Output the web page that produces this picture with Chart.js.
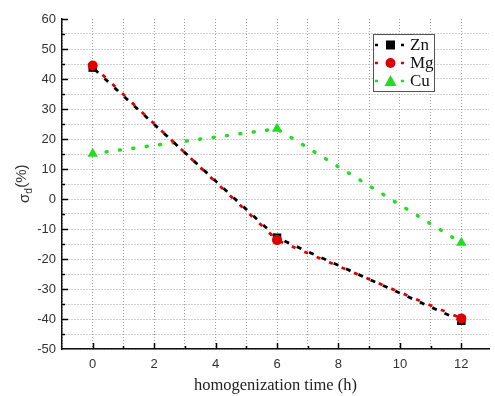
<!DOCTYPE html>
<html><head><meta charset="utf-8">
<script src="https://cdn.jsdelivr.net/npm/chart.js@4.4.1/dist/chart.umd.min.js"></script>
<style>html,body{margin:0;padding:0;background:#fff}#wrap{width:495px;height:396px;position:relative}</style>
</head><body><div id="wrap"><canvas id="c" width="495" height="396"></canvas></div>
<script>
const hours = [0, 6, 12];
const znValues = [43.8, -12.9, -40.6];
const mgValues = [44.5, -13.7, -39.8];
const cuValues = [15.1, 23.4, -14.6];
const seriesNames = ['Zn', 'Mg', 'Cu'];
const xTickLabels = [0, 2, 4, 6, 8, 10, 12];
const yTickLabels = [60, 50, 40, 30, 20, 10, 0, -10, -20, -30, -40, -50];

const GREEN = '#22dd22';
const pts = v => hours.map((h, i) => ({x: h, y: v[i]}));

const insideTicks = {
  id: 'insideTicks',
  afterDatasetsDraw(chart) {
    const {ctx, chartArea: a, scales: {x, y}} = chart;
    ctx.save();
    ctx.strokeStyle = '#000'; ctx.lineWidth = 1.5;
    for (let v = 0; v <= 12; v++) {
      const px = Math.round(x.getPixelForValue(v)) + 0.5;
      const len = xTickLabels.includes(v) ? 6 : 3;
      ctx.beginPath(); ctx.moveTo(px, a.bottom); ctx.lineTo(px, a.bottom - len); ctx.stroke();
    }
    for (let v = -45; v <= 60; v += 5) {
      const py = Math.round(y.getPixelForValue(v)) + 0.5;
      const len = yTickLabels.includes(v) ? 6 : 3;
      ctx.beginPath(); ctx.moveTo(a.left, py); ctx.lineTo(a.left + len, py); ctx.stroke();
    }
    // y title: sigma_d (%)
    ctx.fillStyle = '#333';
    ctx.translate(24, (a.top + a.bottom) / 2);
    ctx.rotate(-Math.PI / 2);
    ctx.textBaseline = 'alphabetic';
    const big = '15px "Liberation Sans"', small = '10px "Liberation Sans"';
    ctx.font = big; const w1 = ctx.measureText('σ').width;
    ctx.font = small; const w2 = ctx.measureText('d').width;
    ctx.font = big; const w3 = ctx.measureText('(%)').width;
    let sx = -(w1 + w2 + w3) / 2;
    ctx.fillText('σ', sx, 5); sx += w1;
    ctx.font = small; ctx.fillText('d', sx, 8); sx += w2 + 0.5;
    ctx.font = big; ctx.fillText('(%)', sx, 2);
    ctx.restore();

    // legend box
    ctx.save();
    const bx = 373.5, by = 34.5, bw = 61, bh = 57;
    ctx.fillStyle = '#fff'; ctx.fillRect(bx, by, bw, bh);
    ctx.strokeStyle = '#555'; ctx.lineWidth = 1; ctx.strokeRect(bx, by, bw, bh);
    chart.data.datasets.forEach((ds, i) => {
      const ry = 45 + i * 18;
      ctx.strokeStyle = ds.borderColor; ctx.lineWidth = 2.5; ctx.setLineDash([]);
      ctx.beginPath(); ctx.moveTo(375, ry); ctx.lineTo(378, ry); ctx.stroke();
      ctx.beginPath(); ctx.moveTo(401, ry); ctx.lineTo(404, ry); ctx.stroke();
      ctx.fillStyle = ds.pointBackgroundColor;
      if (ds.pointStyle === 'rect') ctx.fillRect(386, ry - 4.5, 9, 9);
      else if (ds.pointStyle === 'circle') { ctx.beginPath(); ctx.arc(390.5, ry, 5, 0, Math.PI * 2); ctx.fill(); }
      else { ctx.beginPath(); ctx.moveTo(390.5, ry - 6); ctx.lineTo(396.5, ry + 5); ctx.lineTo(384.5, ry + 5); ctx.closePath(); ctx.fill(); }
      ctx.fillStyle = '#111'; ctx.font = '17px "Liberation Serif"'; ctx.textBaseline = 'middle';
      ctx.fillText(ds.label, 410, ry + 1);
    });
    ctx.restore();
  }
};

const gridColor = c => (c.tick && c.tick.value === 60) ? 'rgba(0,0,0,0)' : '#a0a0a0';

new Chart(document.getElementById('c'), {
  type: 'line',
  data: {
    datasets: [
      {label: seriesNames[0], data: pts(znValues), borderColor: '#000', backgroundColor: '#000', pointBackgroundColor: '#000',
       borderWidth: 2.8, borderDash: [5, 8.5], borderDashOffset: -2.5, pointStyle: 'rect', pointRadius: 6, pointBorderWidth: 0, order: 2},
      {label: seriesNames[1], data: pts(mgValues), borderColor: '#e00000', backgroundColor: '#e00000', pointBackgroundColor: '#e00000',
       borderWidth: 2.8, borderDash: [4, 9.5], borderDashOffset: 0, pointStyle: 'circle', pointRadius: 5, pointBorderWidth: 0, order: 1},
      {label: seriesNames[2], data: pts(cuValues), borderColor: GREEN, backgroundColor: GREEN, pointBackgroundColor: GREEN,
       borderWidth: 3.5, borderDash: [1, 12.5], borderCapStyle: 'round', pointStyle: 'triangle', pointRadius: 6, pointBorderWidth: 0, order: 3}
    ]
  },
  options: {
    responsive: false, animation: false,
    layout: {padding: {top: 19, right: 0, left: 0, bottom: 0}},
    plugins: {legend: {display: false}, tooltip: {enabled: false}},
    scales: {
      x: {type: 'linear', min: -1, max: 12.9,
        afterFit(s) { s.height = 47; },
        afterBuildTicks(s) { const t = []; for (let v = -1; v <= 12; v++) t.push({value: v}); s.ticks = t; },
        ticks: {autoSkip: false, maxRotation: 0, padding: 8, color: '#333', font: {family: '"Liberation Sans"', size: 13},
          callback: v => xTickLabels.includes(v) ? String(v) : ''},
        grid: {color: '#a0a0a0', lineWidth: 1, drawTicks: false, tickLength: 0},
        border: {display: true, color: '#111', width: 1.5, dash: [1, 2]},
        title: {display: true, text: 'homogenization time (h)', color: '#222', font: {family: '"Liberation Serif"', size: 16.5}, padding: {top: 0, bottom: 0}}
      },
      y: {type: 'linear', min: -50, max: 60,
        afterFit(s) { s.width = 62; },
        afterBuildTicks(s) { const t = []; for (let v = -50; v <= 60; v += 5) t.push({value: v}); s.ticks = t; },
        ticks: {autoSkip: false, padding: 6, color: '#333', font: {family: '"Liberation Sans"', size: 13},
          callback: v => yTickLabels.includes(v) ? String(v) : ''},
        grid: {color: gridColor, lineWidth: 1, drawTicks: false, tickLength: 0},
        border: {display: true, color: '#111', width: 1.5, dash: [1, 2]}
      }
    }
  },
  plugins: [insideTicks]
});
</script></body></html>
